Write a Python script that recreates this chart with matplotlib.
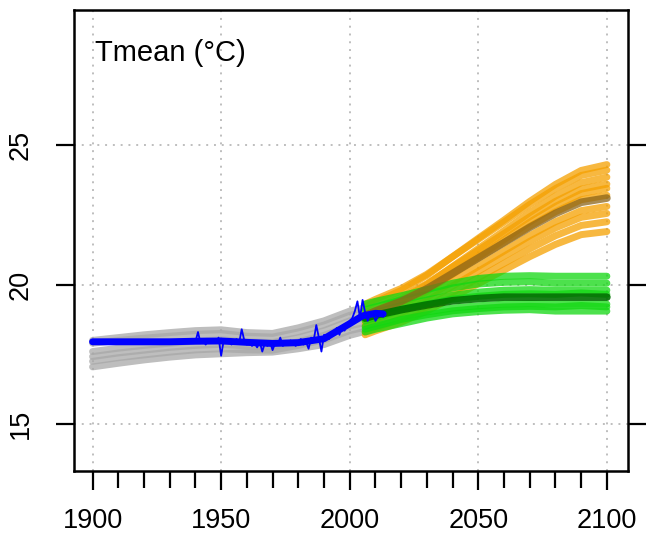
#!/usr/bin/env python3
"""Tmean ensemble: historical runs, observations and two future scenarios."""

import matplotlib

matplotlib.use("Agg")
import matplotlib.pyplot as plt

plt.rcParams["font.family"] = ["Liberation Sans", "DejaVu Sans"]

# historical model runs (grey)
HIST_YEARS = [1900, 1910, 1920, 1930, 1940, 1950, 1960, 1970, 1980, 1990, 2000, 2005]
HIST_RUNS = [
    [18.00, 18.10, 18.20, 18.28, 18.35, 18.38, 18.28, 18.25, 18.45, 18.70, 19.05, 19.15],
    [17.90, 18.00, 18.08, 18.15, 18.22, 18.25, 18.15, 18.12, 18.30, 18.55, 18.90, 19.00],
    [17.60, 17.72, 17.82, 17.90, 17.98, 18.02, 17.95, 17.92, 18.10, 18.35, 18.70, 18.80],
    [17.42, 17.55, 17.65, 17.75, 17.82, 17.86, 17.80, 17.78, 17.95, 18.18, 18.52, 18.62],
    [17.25, 17.38, 17.48, 17.58, 17.66, 17.70, 17.66, 17.65, 17.82, 18.02, 18.35, 18.45],
    [17.05, 17.18, 17.30, 17.40, 17.48, 17.52, 17.56, 17.58, 17.70, 17.85, 18.18, 18.30],
]

# future scenarios
FUT_YEARS = [2006, 2010, 2020, 2030, 2040, 2050, 2060, 2070, 2080, 2090, 2100]
HIGH_RUNS = [
    [19.20, 19.38, 19.79, 20.33, 21.00, 21.66, 22.31, 22.98, 23.59, 24.09, 24.30],
    [19.30, 19.47, 19.86, 20.37, 21.00, 21.62, 22.24, 22.87, 23.44, 23.91, 24.10],
    [18.90, 19.07, 19.48, 20.00, 20.65, 21.29, 21.93, 22.58, 23.17, 23.65, 23.85],
    [19.00, 19.16, 19.54, 20.03, 20.63, 21.23, 21.83, 22.43, 22.98, 23.42, 23.60],
    [18.70, 18.87, 19.26, 19.76, 20.38, 21.00, 21.61, 22.24, 22.80, 23.26, 23.45],
    [18.80, 18.95, 19.32, 19.79, 20.37, 20.94, 21.51, 22.09, 22.61, 23.04, 23.20],
    [18.60, 18.75, 19.10, 19.55, 20.10, 20.65, 21.20, 21.75, 22.25, 22.65, 22.80],
    [18.50, 18.65, 18.99, 19.42, 19.95, 20.48, 21.02, 21.55, 22.03, 22.41, 22.55],
    [18.30, 18.44, 18.78, 19.20, 19.72, 20.24, 20.76, 21.28, 21.75, 22.12, 22.25],
    [18.20, 18.34, 18.65, 19.05, 19.54, 20.03, 20.52, 21.00, 21.44, 21.79, 21.90],
]
HIGH_MEAN = [18.90, 19.05, 19.40, 19.85, 20.40, 20.95, 21.50, 22.05, 22.55, 22.95, 23.10]

MID_RUNS = [
    [19.30, 19.40, 19.60, 19.82, 20.05, 20.22, 20.30, 20.32, 20.30, 20.30, 20.30],
    [19.10, 19.20, 19.45, 19.65, 19.88, 20.02, 20.08, 20.10, 20.05, 20.05, 20.05],
    [18.90, 19.00, 19.25, 19.45, 19.62, 19.73, 19.80, 19.82, 19.80, 19.80, 19.80],
    [18.70, 18.82, 19.10, 19.30, 19.48, 19.58, 19.65, 19.67, 19.65, 19.70, 19.65],
    [18.50, 18.60, 18.85, 19.02, 19.16, 19.24, 19.30, 19.32, 19.30, 19.30, 19.30],
    [18.40, 18.50, 18.75, 18.92, 19.06, 19.14, 19.20, 19.22, 19.20, 19.25, 19.20],
    [18.30, 18.40, 18.60, 18.80, 18.95, 19.03, 19.08, 19.10, 19.05, 19.05, 19.05],
]
MID_MEAN = [18.80, 18.90, 19.10, 19.27, 19.42, 19.50, 19.55, 19.55, 19.55, 19.55, 19.55]

# observations
OBS_SMOOTH_YEARS = [1900, 1910, 1920, 1930, 1940, 1950, 1960, 1970, 1980, 1990, 2000, 2005, 2010, 2013]
OBS_SMOOTH = [17.95, 17.95, 17.95, 17.95, 17.97, 17.98, 17.93, 17.89, 17.92, 18.06, 18.60, 18.88, 18.97, 18.95]
OBS_YEARS = list(range(1940, 2014))
OBS_ANNUAL = [
    17.95, 18.30, 17.90, 18.00, 17.85, 18.05, 17.95, 18.00, 17.90, 18.10,
    17.45, 18.00, 17.95, 18.05, 17.85, 17.95, 18.05, 17.90, 18.40, 18.00,
    17.85, 17.95, 17.80, 17.90, 17.75, 17.95, 17.60, 17.90, 17.80, 17.95,
    17.65, 17.90, 17.85, 18.10, 17.80, 17.90, 17.85, 18.00, 17.90, 17.80,
    17.95, 18.05, 17.85, 17.95, 17.70, 18.10, 18.00, 18.55, 18.10, 17.60,
    18.20, 18.15, 18.05, 18.30, 18.25, 18.45, 18.20, 18.50, 18.35, 18.55,
    18.70, 18.80, 19.05, 19.40, 18.80, 19.45, 19.00, 18.70, 18.95, 19.00,
    18.70, 18.85, 18.95, 18.85,
]

X_MAJOR = [1900, 1950, 2000, 2050, 2100]
Y_MAJOR = [15, 20, 25]


def main() -> None:
    fig = plt.figure(figsize=(6.46, 5.40), dpi=100)
    ax = fig.add_axes([0.1146, 0.1283, 0.8575, 0.8532])

    for x in X_MAJOR:
        ax.axvline(x, color="#bebebe", linestyle=(0, (1, 3)), linewidth=1.4, zorder=0)
    for y in Y_MAJOR:
        ax.axhline(y, color="#bebebe", linestyle=(0, (1, 3)), linewidth=1.4, zorder=0)

    line_kw = dict(solid_capstyle="round", solid_joinstyle="round")
    for run in HIST_RUNS:
        ax.plot(HIST_YEARS, run, color="#a8a8a8", alpha=0.75, linewidth=5, **line_kw)
    for run in HIGH_RUNS:
        ax.plot(FUT_YEARS, run, color="#f5a000", alpha=0.75, linewidth=5, **line_kw)
    for run in MID_RUNS:
        ax.plot(FUT_YEARS, run, color="#11d811", alpha=0.75, linewidth=5, **line_kw)
    ax.plot(FUT_YEARS, HIGH_MEAN, color="#8b6419", alpha=0.75, linewidth=5.5, **line_kw)
    ax.plot(FUT_YEARS, MID_MEAN, color="#007000", alpha=0.9, linewidth=5.5, **line_kw)

    ax.plot(OBS_SMOOTH_YEARS, OBS_SMOOTH, color="#0000ff", linewidth=5, **line_kw)
    ax.plot(OBS_YEARS, OBS_ANNUAL, color="#0000ff", linewidth=1.3)

    ax.set_xlim(1892.8, 2108.2)
    ax.set_ylim(13.33, 29.84)
    ax.set_xticks(X_MAJOR)
    ax.set_xticks(range(1900, 2101, 10), minor=True)
    ax.set_yticks(Y_MAJOR)
    ax.tick_params(axis="x", which="major", length=14, width=1.6, pad=13, labelsize=19.5)
    ax.tick_params(axis="x", which="minor", length=12, width=1.6)
    ax.tick_params(axis="y", which="major", length=13, width=1.6, pad=16, labelsize=19.5,
                   right=True, labelrotation=90)
    for lab in ax.get_yticklabels():
        lab.set_verticalalignment("center")

    for spine in ax.spines.values():
        spine.set_linewidth(1.8)

    ax.text(0.038, 0.907, "Tmean (°C)", transform=ax.transAxes, fontsize=21,
            ha="left", va="center")

    fig.savefig("out.png", dpi=100)


if __name__ == "__main__":
    main()
